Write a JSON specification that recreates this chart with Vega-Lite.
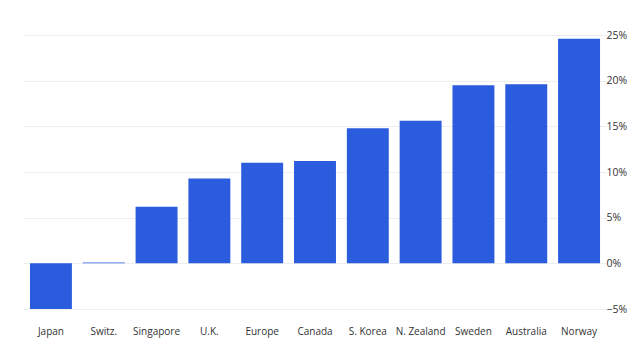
{
  "$schema": "https://vega.github.io/schema/vega-lite/v6.json",
  "autosize": {"type": "none"},
  "width": 584,
  "height": 274,
  "padding": {"left": 23, "top": 35, "right": 33, "bottom": 29},
  "background": "white",
  "config": {
    "view": {"stroke": null},
    "font": "Open Sans"
  },
  "data": {
    "values": [
      {"country": "Japan", "value": -0.05},
      {"country": "Switz.", "value": 0.001},
      {"country": "Singapore", "value": 0.062},
      {"country": "U.K.", "value": 0.093},
      {"country": "Europe", "value": 0.110},
      {"country": "Canada", "value": 0.112},
      {"country": "S. Korea", "value": 0.148},
      {"country": "N. Zealand", "value": 0.156},
      {"country": "Sweden", "value": 0.195},
      {"country": "Australia", "value": 0.196},
      {"country": "Norway", "value": 0.246}
    ]
  },
  "mark": {"type": "bar", "color": "#2b5cde"},
  "encoding": {
    "x": {
      "field": "country",
      "type": "nominal",
      "sort": null,
      "scale": {"paddingInner": 0.206, "paddingOuter": 0.132},
      "axis": {
        "title": null,
        "labelAngle": 0,
        "domain": false,
        "ticks": false,
        "grid": false,
        "labelPadding": 17,
        "labelFontSize": 10,
        "labelColor": "#333333",
        "labelFont": "Open Sans"
      }
    },
    "y": {
      "field": "value",
      "type": "quantitative",
      "scale": {"domain": [-0.05, 0.25], "nice": false, "zero": true},
      "axis": {
        "title": null,
        "orient": "right",
        "format": ".0%",
        "values": [-0.05, 0, 0.05, 0.1, 0.15, 0.2, 0.25],
        "domain": false,
        "ticks": false,
        "grid": true,
        "gridColor": "#eeeeee",
        "gridWidth": 1,
        "labelPadding": -1,
        "labelFontSize": 10.5,
        "labelColor": "#333333",
        "labelFont": "Open Sans"
      }
    }
  }
}
